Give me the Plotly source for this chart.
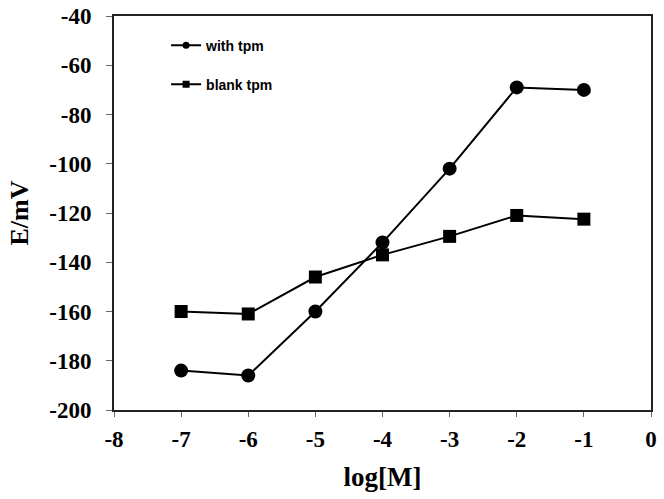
import plotly.graph_objects as go

log_m = [-7, -6, -5, -4, -3, -2, -1]
with_tpm = [-184, -186, -160, -132, -102, -69, -70]
blank_tpm = [-160, -161, -146, -137, -129.5, -121, -122.5]
x_ticks = [-8, -7, -6, -5, -4, -3, -2, -1, 0]
y_ticks = [-200, -180, -160, -140, -120, -100, -80, -60, -40]

fig = go.Figure()
fig.add_trace(go.Scatter(x=log_m, y=with_tpm, mode="lines+markers", name="with tpm",
                         line=dict(color="black", width=2),
                         marker=dict(symbol="circle", size=14, color="black"),
                         showlegend=False))
fig.add_trace(go.Scatter(x=log_m, y=blank_tpm, mode="lines+markers", name="blank tpm",
                         line=dict(color="black", width=2),
                         marker=dict(symbol="square", size=13, color="black"),
                         showlegend=False))
# legend entries with small symbols, as in the reference
fig.add_trace(go.Scatter(x=[None], y=[None], mode="lines+markers", name="<b>with tpm</b>",
                         line=dict(color="black", width=2),
                         marker=dict(symbol="circle", size=7, color="black"),
                         legend="legend"))
fig.add_trace(go.Scatter(x=[None], y=[None], mode="lines+markers", name="<b>blank tpm</b>",
                         line=dict(color="black", width=2),
                         marker=dict(symbol="square", size=7, color="black"),
                         legend="legend2"))

axis_font = dict(family="Liberation Serif", size=23, color="black")
legend_common = dict(bgcolor="rgba(0,0,0,0)", borderwidth=0,
                     font=dict(family="Liberation Sans", size=14, color="black"),
                     xanchor="left", yanchor="middle", itemwidth=30)

fig.update_layout(
    width=664, height=499,
    margin=dict(l=114, r=13, t=16, b=89),
    showlegend=True,
    paper_bgcolor="white", plot_bgcolor="white",
    xaxis=dict(range=[-8, 0], tickvals=x_ticks, ticktext=[f"<b>{v}</b>" for v in x_ticks],
               showgrid=False, zeroline=False, showline=True, linecolor="#222", linewidth=2,
               mirror=True, ticks="outside", ticklen=5, tickcolor="#666", automargin=False,
               tickfont=axis_font, ticklabelstandoff=2, ticklabeloverflow="allow",
               title=dict(text="<b>log[M]</b>", font=dict(family="Liberation Serif", size=27, color="black"), standoff=17)),
    yaxis=dict(range=[-200, -40], tickvals=y_ticks, ticktext=[f"<b>{v}</b>" for v in y_ticks],
               showgrid=False, zeroline=False, showline=True, linecolor="#222", linewidth=2,
               mirror=True, ticks="outside", ticklen=6, tickcolor="#666", automargin=False,
               tickfont=axis_font, ticklabelstandoff=10, ticklabeloverflow="allow",
               title=dict(text="<b>E/mV</b>", font=dict(family="Liberation Serif", size=26, color="black"), standoff=13)),
    legend=dict(x=0.097, y=0.925, **legend_common),
    legend2=dict(x=0.097, y=0.826, **legend_common),
)

fig.write_html("out.html", config={"displayModeBar": False},
               post_script="document.body.style.margin='0';")
